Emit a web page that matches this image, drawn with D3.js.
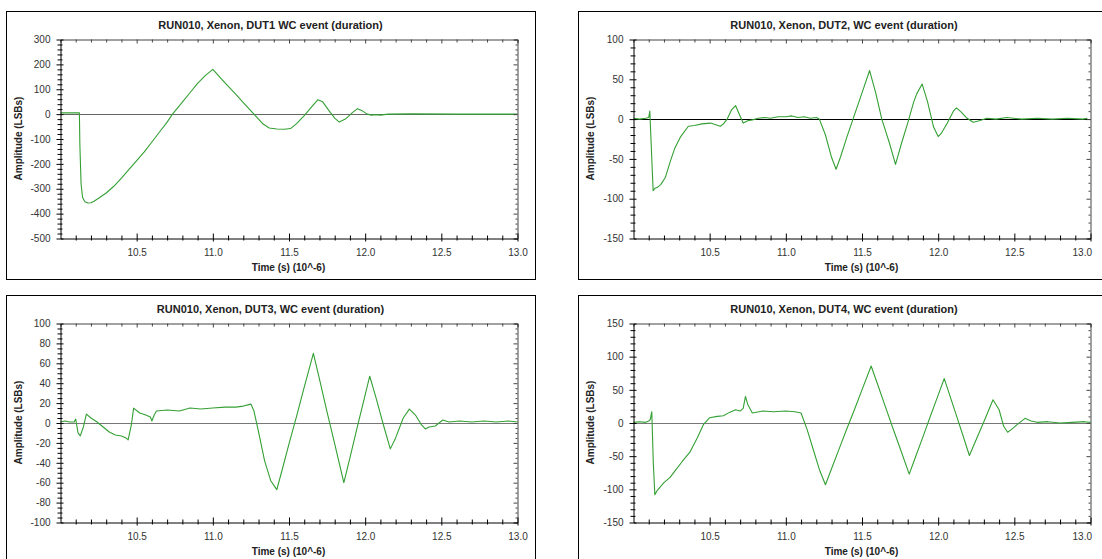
<!DOCTYPE html>
<html>
<head>
<meta charset="utf-8">
<script src="https://cdn.jsdelivr.net/npm/d3@7/dist/d3.min.js"></script>
<style>
  body{margin:0;background:#fff;}
  text{font-family:"Liberation Sans",Arial,sans-serif;}
</style>
</head>
<body>
<div class="maintable"></div>
<script>
// 时间轴 (10^-6 s)
var xDomain = [10.0, 13.0];
var xMajorTicks = [10.5, 11.0, 11.5, 12.0, 12.5, 13.0];

// DUT1
var dut1Time = [10.00,10.05,10.10,10.124,10.127,10.135,10.145,10.16,10.18,10.20,10.22,10.25,10.30,10.35,10.40,10.47,10.55,10.60,10.65,10.70,10.735,10.80,10.85,10.90,10.95,10.98,11.00,11.05,11.10,11.15,11.20,11.27,11.33,11.37,11.42,11.47,11.51,11.55,11.60,11.65,11.69,11.72,11.76,11.80,11.83,11.87,11.92,11.95,11.98,12.01,12.04,12.07,12.10,12.15,12.30,12.60,13.00];
var dut1Amp  = [5,5,5,5,-120,-280,-335,-352,-357,-356,-350,-338,-317,-290,-257,-208,-152,-112,-72,-32,0,48,86,124,155,170,180,146,113,80,46,0,-40,-56,-60,-61,-58,-38,-6,30,58,50,16,-16,-32,-20,8,22,14,1,-4,-2,-4,0,1,0,0];
var dut1YTicks = [-500,-400,-300,-200,-100,0,100,200,300];

// DUT2
var dut2Time = [10.00,10.04,10.08,10.10,10.107,10.118,10.129,10.14,10.155,10.18,10.21,10.24,10.27,10.31,10.36,10.40,10.45,10.505,10.54,10.57,10.59,10.615,10.645,10.67,10.69,10.72,10.75,10.78,10.82,10.86,10.90,10.95,11.00,11.04,11.08,11.12,11.16,11.20,11.22,11.26,11.30,11.33,11.36,11.40,11.45,11.50,11.55,11.59,11.63,11.68,11.72,11.76,11.80,11.84,11.86,11.895,11.93,11.97,12.00,12.02,12.06,12.10,12.12,12.15,12.19,12.23,12.27,12.32,12.38,12.45,12.55,12.65,12.75,12.85,12.95,12.98];
var dut2Amp  = [1,0,1,2,10,-40,-90,-87,-86,-82,-73,-54,-37,-22,-9,-8,-6,-5,-7,-9,-6,0,12,17,8,-5,-2,-1,1,2,1,3,3,4,2,3,1,2,0,-20,-48,-63,-47,-23,5,33,61,33,0,-30,-57,-30,-5,22,32,44,22,-10,-22,-18,-5,10,14,9,1,-4,-2,1,0,2,0,1,0,1,0,1];
var dut2YTicks = [-150,-100,-50,0,50,100];

// DUT3
var dut3Time = [10.00,10.03,10.06,10.09,10.10,10.115,10.13,10.15,10.17,10.20,10.24,10.28,10.32,10.36,10.40,10.43,10.444,10.465,10.48,10.52,10.56,10.59,10.60,10.615,10.63,10.70,10.78,10.85,10.92,11.00,11.08,11.15,11.20,11.25,11.27,11.30,11.34,11.38,11.42,11.45,11.50,11.55,11.60,11.66,11.70,11.75,11.80,11.86,11.90,11.95,11.99,12.03,12.07,12.12,12.165,12.20,12.25,12.29,12.33,12.37,12.395,12.42,12.46,12.51,12.55,12.62,12.70,12.78,12.86,12.94,13.00];
var dut3Amp  = [1,2,1,1,4,-10,-13,-4,9,5,1,-4,-9,-12,-13,-15,-17,-2,15,10,8,6,2,8,12,13,12,15,14,15,16,16,17,19,12,-9,-38,-58,-67,-50,-21,7,36,70,44,11,-21,-60,-35,-3,22,47,26,-2,-26,-15,5,14,8,-2,-6,-4,-3,3,1,2,1,2,1,2,1];
var dut3YTicks = [-100,-80,-60,-40,-20,0,20,40,60,80,100];

// DUT4
var dut4Time = [10.00,10.04,10.08,10.10,10.11,10.12,10.13,10.14,10.155,10.20,10.24,10.28,10.32,10.37,10.42,10.46,10.50,10.55,10.59,10.63,10.67,10.70,10.72,10.735,10.75,10.78,10.85,10.92,11.00,11.06,11.10,11.14,11.18,11.22,11.26,11.30,11.35,11.40,11.45,11.50,11.56,11.60,11.65,11.70,11.75,11.81,11.85,11.90,11.95,12.00,12.04,12.08,12.12,12.16,12.205,12.25,12.30,12.36,12.40,12.43,12.456,12.48,12.52,12.57,12.61,12.65,12.72,12.80,12.88,12.96,13.00];
var dut4Amp  = [1,2,1,3,5,17,-60,-108,-102,-90,-82,-70,-58,-44,-22,-2,8,10,11,16,20,18,22,40,28,15,18,17,18,17,15,-10,-40,-70,-93,-69,-39,-9,20,50,86,60,27,-6,-38,-77,-52,-21,11,42,67,39,11,-17,-49,-25,2,35,20,-5,-14,-10,-2,7,3,1,2,0,1,2,1];
var dut4YTicks = [-150,-100,-50,0,50,100,150];

var panels = [
  {title:"RUN010, Xenon, DUT1 WC event (duration)", t:dut1Time, v:dut1Amp, yTicks:dut1YTicks, yMinor:20,
   frame:[6,11,529,268], plot:[60,39,457,199], zero:"#666", edge:false},
  {title:"RUN010, Xenon, DUT2, WC event (duration)", t:dut2Time, v:dut2Amp, yTicks:dut2YTicks, yMinor:10,
   frame:[578,11,530,268], plot:[633,39,457,199], zero:"#000", edge:true},
  {title:"RUN010, Xenon, DUT3, WC event (duration)", t:dut3Time, v:dut3Amp, yTicks:dut3YTicks, yMinor:5,
   frame:[6,295,529,270], plot:[60,323,457,199], zero:"#777", edge:false},
  {title:"RUN010, Xenon, DUT4, WC event (duration)", t:dut4Time, v:dut4Amp, yTicks:dut4YTicks, yMinor:10,
   frame:[578,295,530,270], plot:[633,323,457,199], zero:"#777", edge:true}
];

var svg = d3.select(".maintable").append("svg")
  .attr("width",1102)
  .attr("height",559);

panels.forEach(function(p){
  var fx = p.frame[0], fy = p.frame[1], fw = p.frame[2], fh = p.frame[3];
  var px = p.plot[0], py = p.plot[1], pw = p.plot[2], ph = p.plot[3];

  // 外框
  svg.append("rect")
    .attr("x",fx+0.5).attr("y",fy+0.5)
    .attr("width",fw).attr("height",fh)
    .attr("fill","none").attr("stroke","#000").attr("stroke-width",1);

  // 标题
  svg.append("text")
    .attr("x",p.edge ? fx+266 : fx+fw/2).attr("y",fy+18)
    .attr("text-anchor","middle")
    .attr("font-size","11px").attr("font-weight","bold").attr("fill","#222")
    .text(p.title);

  var g = svg.append("g").attr("transform","translate("+(px+0.5)+","+(py+0.5)+")");

  var x = d3.scaleLinear().domain(xDomain).range([0,pw]);
  var y = d3.scaleLinear().domain([p.yTicks[0], p.yTicks[p.yTicks.length-1]]).range([ph,0]);

  var xMinor = d3.range(10.1, 12.95, 0.1).filter(function(d){ return Math.abs(d*2-Math.round(d*2))>0.01; });
  var yMinor = d3.range(y.domain()[0], y.domain()[1]+0.1, p.yMinor).filter(function(d){ return p.yTicks.indexOf(d)<0; });

  // 零线
  g.append("line")
    .attr("x1",0).attr("x2",pw)
    .attr("y1",Math.round(y(0))).attr("y2",Math.round(y(0)))
    .attr("stroke",p.zero).attr("stroke-width",1.2);

  // 波形
  var line = d3.line()
    .x(function(d,i){ return x(p.t[i]); })
    .y(function(d){ return y(d); });
  g.append("path")
    .datum(p.v)
    .attr("d",line)
    .attr("fill","none")
    .attr("stroke","#34a034")
    .attr("stroke-width",1.1)
    .attr("stroke-linejoin","round");

  // 上轴
  var top = g.append("g").attr("color","#444")
    .call(d3.axisTop(x).tickValues(xMinor.concat(xMajorTicks)).tickSize(-3).tickFormat(""));
  top.selectAll(".tick line").attr("y2",function(d){ return xMajorTicks.indexOf(d)>=0 ? 4 : 3; });

  // 右轴
  var right = g.append("g").attr("transform","translate("+pw+",0)").attr("color","#444")
    .call(d3.axisRight(y).tickValues(yMinor.concat(p.yTicks)).tickSize(-3).tickFormat(""));
  right.selectAll(".tick line").attr("x2",function(d){ return p.yTicks.indexOf(d)>=0 ? -4 : -2; });

  // 下轴
  var bottomMinor = g.append("g").attr("transform","translate(0,"+ph+")").attr("color","#000")
    .call(d3.axisBottom(x).tickValues(xMinor).tickSize(2).tickFormat(""));
  bottomMinor.select(".domain").remove();
  bottomMinor.selectAll(".tick line").attr("y1",-3);

  var bottom = g.append("g").attr("transform","translate(0,"+ph+")").attr("color","#000")
    .call(d3.axisBottom(x).tickValues(xMajorTicks).tickSize(3).tickSizeOuter(0).tickPadding(7).tickFormat(d3.format(".1f")));
  bottom.selectAll(".tick line").attr("y1",-5);
  bottom.selectAll("text").attr("font-size","10px").attr("fill","#333");
  if(p.edge){
    // 最后一个标签靠右对齐
    bottom.selectAll("text").filter(function(d){ return d==13.0; })
      .attr("text-anchor","end").attr("x",1);
  }

  // 左轴
  var leftMinor = g.append("g").attr("color","#000")
    .call(d3.axisLeft(y).tickValues(yMinor).tickSize(3).tickFormat(""));
  leftMinor.select(".domain").remove();
  leftMinor.selectAll(".tick line").attr("x1",2);

  var left = g.append("g").attr("color","#000")
    .call(d3.axisLeft(y).tickValues(p.yTicks).tickSize(4).tickSizeOuter(0).tickPadding(6)
      .tickFormat(function(d){ return String(d); }));
  left.selectAll(".tick line").attr("x1",3);
  left.selectAll("text").attr("font-size","10px").attr("fill","#333");

  // 轴标题
  svg.append("text")
    .attr("transform","translate("+(fx+16)+","+(py+ph/2)+") rotate(-90)")
    .attr("text-anchor","middle")
    .attr("font-size","10px").attr("font-weight","bold").attr("fill","#222")
    .text("Amplitude (LSBs)");

  svg.append("text")
    .attr("x",px+pw/2).attr("y",py+ph+33)
    .attr("text-anchor","middle")
    .attr("font-size","10px").attr("font-weight","bold").attr("fill","#222")
    .text("Time (s) (10^-6)");
});
</script>
</body>
</html>
